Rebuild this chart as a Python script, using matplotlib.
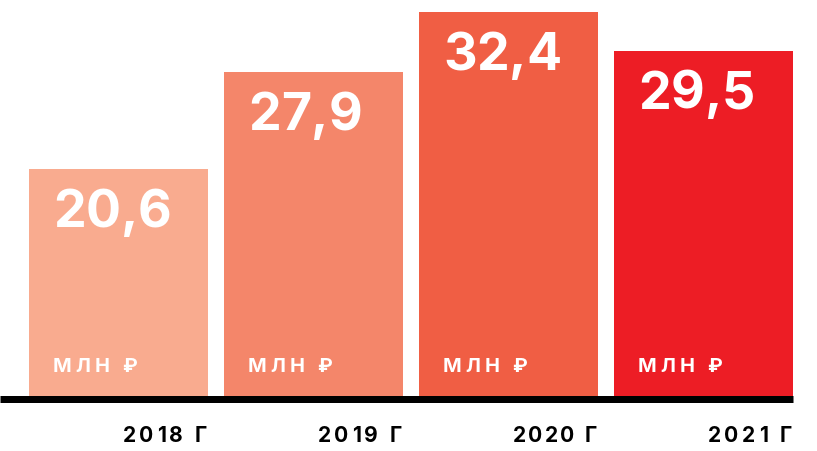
import matplotlib
matplotlib.use("Agg")
import matplotlib.pyplot as plt

years = ["2018 Г", "2019 Г", "2020 Г", "2021 Г"]
values = [20.6, 27.9, 32.4, 29.5]
unit_label = "МЛН ₽"
colors = ["#F9AB8F", "#F4866A", "#F05E44", "#ED1D25"]

W, H = 817, 451
fig = plt.figure(figsize=(W / 100, H / 100), dpi=100)
ax = fig.add_axes([0, 52.5 / H, 1, 398.5 / H])
pitch = 195.0
bar_w = 179.0 / pitch
ax.set_xlim(-118.5 / pitch, (W - 118.5) / pitch)
ybot, ytop = 3.32, 33.33
ax.set_ylim(ybot, ytop)
ax.axis("off")

x = list(range(len(values)))
ax.bar(x, values, width=bar_w, color=colors, zorder=2)
ax.axhline(ybot, xmin=0, xmax=793 / W, color="black", lw=7 * 0.72,
           solid_capstyle="butt", clip_on=False, zorder=5)

renderer = fig.canvas.get_renderer()
FAM = ["Inter", "DejaVu Sans"]


def spaced(xy, s, size_px, color, off, ha="left", tracking=None, target=None):
    fs = size_px * 0.72
    widths = []
    for ch in s:
        if ch == " ":
            widths.append(0.26 * size_px)
            continue
        t = ax.text(0, 0, ch, fontsize=fs, family=FAM, fontweight="bold")
        widths.append(t.get_window_extent(renderer).width)
        t.remove()
    nat = sum(widths)
    if target is not None:
        tr = (target - nat) / (len(s) - 1)
    else:
        tr = tracking or 0
    total = nat + tr * (len(s) - 1)
    cx = off[0] - (total if ha == "right" else 0)
    for ch, w in zip(s, widths):
        if ch != " ":
            ax.annotate(ch, xy=xy, xycoords="data", xytext=(cx, off[1]),
                        textcoords="offset pixels", ha="left", va="baseline",
                        fontsize=fs, family=FAM, fontweight="bold",
                        color=color, zorder=6, annotation_clip=False)
        cx += w + tr


for i, v in enumerate(values):
    left = i - bar_w / 2
    right = i + bar_w / 2
    lab = f"{v:.1f}".replace(".", ",")
    spaced((left, v), lab, 52, "white", (24, -58), tracking=0)
    spaced((left, ybot), unit_label, 20, "white", (24, 26.5), target=84)
    spaced((right, ybot), years[i], 21, "black", (-1, -43.5), ha="right", target=84)

fig.savefig("out.png", dpi=100)
